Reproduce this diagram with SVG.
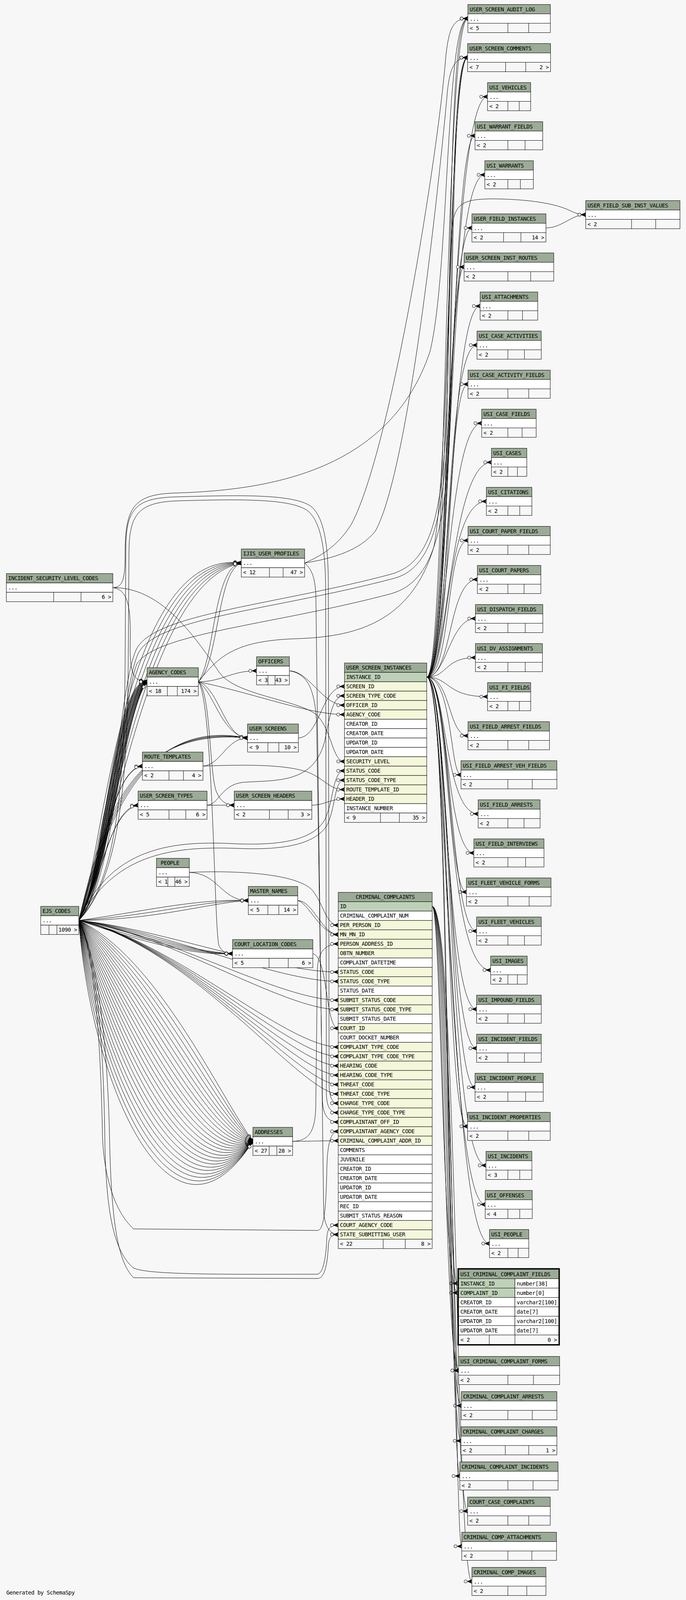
<svg xmlns="http://www.w3.org/2000/svg" width="1755" height="4199" viewBox="0 0 1755 4199">
<defs>
<style>
rect.h{fill:#9bab96;stroke:#000;stroke-width:1}
rect.p{fill:#bed1b8;stroke:#000;stroke-width:1}
rect.f{fill:#f4f7da;stroke:#000;stroke-width:1}
rect.w{fill:#ffffff;stroke:#000;stroke-width:1}
rect.b{fill:#f7f7f7;stroke:#000;stroke-width:1}
.s{fill:none;stroke:#000;stroke-width:1}
text{font-family:"DejaVu Sans Mono","Liberation Mono",monospace;font-size:14px;letter-spacing:-0.49px;fill:#000}
.r{text-anchor:end}
.c{text-anchor:middle}
#connectors path{fill:none;stroke:#000;stroke-width:1;marker-end:url(#m)}
</style>
<marker id="m" markerUnits="userSpaceOnUse" orient="auto" refX="0" refY="0" markerWidth="30" markerHeight="16" viewBox="-26 -8 30 16" overflow="visible">
<circle cx="-16" cy="0" r="4" fill="#f7f7f7" stroke="#000" stroke-width="1"/>
<path d="M-12,0L0,-5L-3,0L0,5Z" fill="#000" stroke="#000" stroke-width="0.8"/>
<path d="M-12,0H0" stroke="#000" stroke-width="1"/>
</marker>
</defs>
<rect x="0" y="0" width="1755" height="4199" fill="#f7f7f7"/>
<g id="connectors">
<path d="M1091.7,1733.3C1142,1733.3 1136,47.5 1197,47.5"/>
<path d="M1091.7,1733.3C1146,1733.3 1141,147.5 1196.3,147.5"/>
<path d="M1091.7,1733.3C1150,1733.3 1146,247.5 1247.2,247.5"/>
<path d="M1091.7,1733.3C1154,1733.3 1151,347.5 1215.2,347.5"/>
<path d="M1091.7,1733.3C1158,1733.3 1136,447.5 1240.3,447.5"/>
<path d="M1091.7,1733.3C1142,1733.3 1141,583.5 1207.3,583.5"/>
<path d="M1091.7,1733.3C1146,1733.3 1146,683.5 1187.3,683.5"/>
<path d="M1091.7,1733.3C1150,1733.3 1151,783.5 1228.3,783.5"/>
<path d="M1091.7,1733.3C1154,1733.3 1136,883.5 1220.3,883.5"/>
<path d="M1091.7,1733.3C1158,1733.3 1141,983.5 1197.3,983.5"/>
<path d="M1091.7,1733.3C1142,1733.3 1146,1083.5 1232.3,1083.5"/>
<path d="M1091.7,1733.3C1146,1733.3 1151,1183.5 1257.3,1183.5"/>
<path d="M1091.7,1733.3C1150,1733.3 1136,1283.5 1244.3,1283.5"/>
<path d="M1091.7,1733.3C1154,1733.3 1141,1383.5 1197.3,1383.5"/>
<path d="M1091.7,1733.3C1158,1733.3 1146,1483.5 1221.3,1483.5"/>
<path d="M1091.7,1733.3C1142,1733.3 1151,1583.5 1216.3,1583.5"/>
<path d="M1091.7,1733.3C1146,1733.3 1136,1683.5 1216.3,1683.5"/>
<path d="M1091.7,1733.3C1150,1733.3 1141,1783.5 1247.3,1783.5"/>
<path d="M1091.7,1733.3C1154,1733.3 1146,1883.5 1197.3,1883.5"/>
<path d="M1091.7,1733.3C1158,1733.3 1151,1983.5 1179.3,1983.5"/>
<path d="M1091.7,1733.3C1142,1733.3 1136,2083.5 1223.3,2083.5"/>
<path d="M1091.7,1733.3C1146,1733.3 1141,2183.5 1212.3,2183.5"/>
<path d="M1091.7,1733.3C1150,1733.3 1146,2283.5 1193.3,2283.5"/>
<path d="M1091.7,1733.3C1154,1733.3 1151,2383.5 1219.3,2383.5"/>
<path d="M1091.7,1733.3C1158,1733.3 1136,2483.5 1255.3,2483.5"/>
<path d="M1091.7,1733.3C1142,1733.3 1141,2583.5 1219.3,2583.5"/>
<path d="M1091.7,1733.3C1146,1733.3 1146,2683.5 1219.3,2683.5"/>
<path d="M1091.7,1733.3C1150,1733.3 1151,2783.5 1215.3,2783.5"/>
<path d="M1091.7,1733.3C1154,1733.3 1136,2883.5 1196.3,2883.5"/>
<path d="M1091.7,1733.3C1158,1733.3 1141,2983.5 1243.3,2983.5"/>
<path d="M1091.7,1733.3C1142,1733.3 1146,3083.5 1241.3,3083.5"/>
<path d="M1091.7,1733.3C1146,1733.3 1151,3183.5 1252.3,3183.5"/>
<path d="M1091.7,1733.3C1150,1733.3 1136,3285.5 1170.3,3285.5"/>
<path d="M1091.7,1733.3C1154,1733.3 1141,3508.5 1173.3,3508.5"/>
<path d="M1091.7,1733.3C1150,1733.3 1140,700 1160,560C1170,515 1200,510 1260,509C1350,510 1420,520 1460,540C1475,547 1485,549.6 1498.4,549.6"/>
<path d="M1396.7,583.5C1440,583 1460,549.6 1498.4,549.6"/>
<path d="M1105.7,2320.4C1128,2320.4 1132,3309.5 1170.3,3309.5"/>
<path d="M1105.7,2320.4C1134,2320.4 1138,3508.5 1173.3,3508.5"/>
<path d="M1105.7,2320.4C1140,2320.4 1144,3598.5 1180.3,3598.5"/>
<path d="M1105.7,2320.4C1146,2320.4 1150,3688.5 1179.3,3688.5"/>
<path d="M1105.7,2320.4C1152,2320.4 1156,3778.5 1176.3,3778.5"/>
<path d="M1105.7,2320.4C1158,2320.4 1160,3868.5 1196.3,3868.5"/>
<path d="M1105.7,2320.4C1164,2320.4 1162,3958.5 1181.3,3958.5"/>
<path d="M1105.7,2320.4C1170,2320.4 1166,4048.5 1207.3,4048.5"/>
<path d="M201.6,2356.3C262,2260 292,1728 376.3,1745.3"/>
<path d="M201.6,2356.3C264,2256 293.5,1735 376.3,1745.3"/>
<path d="M201.6,2356.3C266,2252 295,1742 376.3,1745.3"/>
<path d="M201.6,2356.3C268,2248 296.5,1749 376.3,1745.3"/>
<path d="M201.6,2356.3C270,2244 298,1756 376.3,1745.3"/>
<path d="M201.6,2356.3C272,2240 299.5,1763 376.3,1745.3"/>
<path d="M201.6,2356.3C274,2236 301,1770 376.3,1745.3"/>
<path d="M201.6,2356.3C276,2232 302.5,1777 376.3,1745.3"/>
<path d="M201.6,2356.3C278,2228 304,1784 376.3,1745.3"/>
<path d="M201.6,2356.3C280,2224 305.5,1791 376.3,1745.3"/>
<path d="M201.6,2356.3C282,2220 307,1798 376.3,1745.3"/>
<path d="M201.6,2356.3C284,2216 308.5,1805 376.3,1745.3"/>
<path d="M201.6,2356.3C286,2212 310,1812 376.3,1745.3"/>
<path d="M201.6,2356.3C288,2208 311.5,1819 376.3,1745.3"/>
<path d="M201.6,2356.3C290,2204 313,1826 376.3,1745.3"/>
<path d="M201.6,2356.3C292,2200 314.5,1833 376.3,1745.3"/>
<path d="M201.6,2356.3C265,2200 310,1400 617.3,1441.3"/>
<path d="M201.6,2356.3C270,2200 322,1418 617.3,1441.3"/>
<path d="M201.6,2356.3C275,2200 334,1436 617.3,1441.3"/>
<path d="M201.6,2356.3C280,2200 346,1454 617.3,1441.3"/>
<path d="M201.6,2356.3C285,2200 358,1472 617.3,1441.3"/>
<path d="M201.6,2356.3C290,2200 370,1490 617.3,1441.3"/>
<path d="M201.6,2356.3C262,2100 330,1860 633.3,1889.3"/>
<path d="M201.6,2356.3C266,2100 342,1852 633.3,1889.3"/>
<path d="M201.6,2356.3C270,2100 354,1844 633.3,1889.3"/>
<path d="M201.6,2356.3C274,2100 366,1836 633.3,1889.3"/>
<path d="M201.6,2356.3C255,2280 280,1965 364.3,1961.3"/>
<path d="M201.6,2356.3C250,2290 275,1975 364.3,1961.3"/>
<path d="M201.6,2356.3C250,2310 275,2066 353.3,2061.3"/>
<path d="M201.6,2356.3C245,2320 270,2078 353.3,2061.3"/>
<path d="M201.6,2356.3C360,2335 500,2300 635.3,2305.3"/>
<path d="M201.6,2356.3C380,2345 520,2305 635.3,2305.3"/>
<path d="M201.6,2356.3C400,2355 540,2310 635.3,2305.3"/>
<path d="M201.6,2356.3C330,2372 470,2436 595,2441.3"/>
<path d="M201.6,2356.3C340,2385 480,2440 595,2441.3"/>
<path d="M201.6,2356.3C350,2398 490,2444 595,2441.3"/>
<path d="M201.6,2356.3C360,2410 500,2448 595,2441.3"/>
<path d="M201.6,2356.3C400,2450 560,2800 647,2921.9"/>
<path d="M201.6,2356.3C393,2463 555,2819 647,2921.9"/>
<path d="M201.6,2356.3C386,2475 549,2838 647,2921.9"/>
<path d="M201.6,2356.3C379,2488 544,2858 647,2921.9"/>
<path d="M201.6,2356.3C372,2500 538,2877 647,2921.9"/>
<path d="M201.6,2356.3C365,2513 533,2896 647,2921.9"/>
<path d="M201.6,2356.3C358,2525 528,2915 647,2921.9"/>
<path d="M201.6,2356.3C350,2538 522,2934 647,2921.9"/>
<path d="M201.6,2356.3C343,2550 517,2953 647,2921.9"/>
<path d="M201.6,2356.3C336,2563 511,2973 647,2921.9"/>
<path d="M201.6,2356.3C329,2575 506,2992 647,2921.9"/>
<path d="M201.6,2356.3C322,2588 500,3011 647,2921.9"/>
<path d="M201.6,2356.3C315,2600 495,3030 647,2921.9"/>
<path d="M201.6,2356.3C308,2613 490,3049 647,2921.9"/>
<path d="M201.6,2356.3C301,2625 484,3068 647,2921.9"/>
<path d="M201.6,2356.3C294,2638 479,3088 647,2921.9"/>
<path d="M201.6,2356.3C287,2650 473,3107 647,2921.9"/>
<path d="M201.6,2356.3C280,2663 468,3126 647,2921.9"/>
<path d="M201.6,2356.3C273,2675 463,3145 647,2921.9"/>
<path d="M201.6,2356.3C265,2688 457,3164 647,2921.9"/>
<path d="M201.6,2356.3C258,2700 452,3183 647,2921.9"/>
<path d="M201.6,2356.3C251,2713 446,3203 647,2921.9"/>
<path d="M201.6,2356.3C244,2725 441,3222 647,2921.9"/>
<path d="M201.6,2356.3C237,2738 435,3241 647,2921.9"/>
<path d="M201.6,2356.3C230,2750 430,3260 647,2921.9"/>
<path d="M201.6,2356.3C280,2180 420,2150 600,2160C720,2165 800,2150 830,2100C855,2050 850,1973.3 881.3,1973.3"/>
<path d="M201.6,2356.3C290,2190 430,2165 610,2172C730,2177 810,2160 838,2110C860,2060 855,1997.3 881.3,1997.3"/>
<path d="M201.6,2356.3C400,2376 700,2488.4 865.3,2488.4"/>
<path d="M201.6,2356.3C410,2380 708,2512.4 865.3,2512.4"/>
<path d="M201.6,2356.3C420,2387 716,2560.4 865.3,2560.4"/>
<path d="M201.6,2356.3C430,2390 724,2584.4 865.3,2584.4"/>
<path d="M201.6,2356.3C440,2405 732,2680.4 865.3,2680.4"/>
<path d="M201.6,2356.3C450,2408 740,2704.4 865.3,2704.4"/>
<path d="M201.6,2356.3C460,2412 748,2728.4 865.3,2728.4"/>
<path d="M201.6,2356.3C470,2415 756,2752.4 865.3,2752.4"/>
<path d="M201.6,2356.3C480,2419 764,2776.4 865.3,2776.4"/>
<path d="M201.6,2356.3C490,2423 772,2800.4 865.3,2800.4"/>
<path d="M201.6,2356.3C300,2250 318,2000 320,1700L322,1400C323,1300 350,1275 450,1272C600,1268 760,1262 800,1300C830,1330 840,1400 840,1500L842,2780C843,2810 850,2824.4 865.3,2824.4"/>
<path d="M201.6,2356.3C305,2250 326,2000 328,1700L330,1410C331,1310 360,1285 460,1282C610,1278 750,1275 790,1310C822,1340 832,1410 833,1500L835,2800C836,2835 845,2848.4 865.3,2848.4"/>
<path d="M201.6,2356.3C250,2450 265,2700 268,2900C270,3100 290,3200 340,3245C370,3265 600,3262 812,3262C830,3260 835,3200 836,3170C837,3145 845,3136.4 865.3,3136.4"/>
<path d="M201.6,2356.3C255,2460 275,2700 280,2900C284,3120 300,3230 342,3271L812,3273C832,3273 838,3230 840,3190C841,3168 848,3160.4 865.3,3160.4"/>
<path d="M201.6,2356.3C245,2440 258,2700 262,2900C264,3000 290,3100 342,3146L812,3150C828,3150 834,3100 836,3000C837,2930 845,2896.4 865.3,2896.4"/>
<path d="M201.6,2356.3C290,2250 300,1760 350,1660C400,1570 700,1550 1000,1470C1110,1440 1135,1300 1145,1000C1155,400 1160,47.5 1197,47.5"/>
<path d="M201.6,2356.3C295,2250 305,1770 355,1670C405,1580 710,1560 1010,1480C1115,1450 1140,1300 1150,1000C1158,450 1165,147.5 1196.3,147.5"/>
<path d="M201.6,2356.3C300,2250 310,1800 350,1700C400,1620 700,1600 1000,1520C1110,1490 1140,1350 1150,1100C1160,500 1165,147.5 1196.3,147.5"/>
<path d="M507.3,1745.3C570,1745 590,1717.3 656.3,1717.3"/>
<path d="M507.3,1745.3C650,1775 790,1829.3 881.3,1829.3"/>
<path d="M507.3,1745.3C560,1760 575,1889.3 633.3,1889.3"/>
<path d="M507.3,1745.3C550,1775 565,1880 633.3,1889.3"/>
<path d="M507.3,1745.3C560,1700 555,1460 617.3,1441.3"/>
<path d="M507.3,1745.3C550,1690 545,1450 617.3,1441.3"/>
<path d="M507.3,1745.3C545,1790 548,2380 560,2420C568,2438 580,2441.3 595,2441.3"/>
<path d="M507.3,1745.3C540,1770 535,1990 555,2030C565,2052 580,2061.3 599.3,2061.3"/>
<path d="M507.3,1745.3C560,1680 600,1640 760,1635C900,1630 1050,1600 1110,1400C1150,1200 1150,147.5 1196.3,147.5"/>
<path d="M779.3,1441.3C830,1420 870,1390 900,1340C1000,1150 1120,400 1140,150C1148,70 1160,47.5 1197,47.5"/>
<path d="M779.3,1441.3C850,1430 920,1410 960,1360C1050,1200 1130,400 1145,230C1152,170 1165,147.5 1196.3,147.5"/>
<path d="M779.3,1441.3C800,1460 805,1480 808,1520L828,3100C830,3140 845,3160.4 865.3,3160.4"/>
<path d="M740.3,1717.3C790,1717 825,1805.3 881.3,1805.3"/>
<path d="M740.3,1717.3C785,1725 805,1760 810,1850L825,2820C827,2855 840,2872.4 865.3,2872.4"/>
<path d="M763.3,1889.3C820,1886 822,1757.3 881.3,1757.3"/>
<path d="M519.3,1961.3C650,1956 760,1958 805,1985C840,2005 848,2021.3 881.3,2021.3"/>
<path d="M519.3,1961.3C565,1958 580,1889.3 633.3,1889.3"/>
<path d="M529.7,2061.3L599.3,2061.3"/>
<path d="M529.7,2061.3C560,2060 565,2010 620,2003C700,1996 800,2010 830,1900C845,1830 850,1781.3 881.3,1781.3"/>
<path d="M797.7,2061.3C830,2061 845,2045.3 881.3,2045.3"/>
<path d="M288.7,1504.3C400,1504 480,1600 560,1720C600,1780 760,1790 810,1830C850,1870 850,1949.3 881.3,1949.3"/>
<path d="M288.7,1504.3C330,1510 335,1560 333,1650C332,1720 340,1745.3 376.3,1745.3"/>
<path d="M288.7,1504.3C315,1504 320,1480 320,1420C320,1300 340,1265 450,1262C700,1255 1000,1200 1100,900C1150,700 1140,47.5 1197,47.5"/>
<path d="M484.3,2233.3C560,2236 565,2305.3 635.3,2305.3"/>
<path d="M484.3,2233.3C600,2228 760,2235 800,2280C830,2320 835,2368.4 865.3,2368.4"/>
<path d="M761.7,2305.3C800,2305 825,2392.4 865.3,2392.4"/>
<path d="M761.7,2305.3C790,2312 820,2392.4 865.3,2392.4"/>
<path d="M800.3,2441.3C840,2450 832,2632.4 865.3,2632.4"/>
<path d="M748.6,2921.9C800,2921.5 820,2920.4 865.3,2920.4"/>
<path d="M748.6,2921.9C790,2920 808,2900 808,2820L812,2480C814,2440 830,2416.4 865.3,2416.4"/>
</g>
<g id="USER_SCREEN_AUDIT_LOG"><rect class="h" x="1197" y="11.5" width="211" height="24"/><rect class="w" x="1197" y="35.5" width="211" height="24"/><rect class="b" x="1197" y="59.5" width="211" height="24"/><path class="s" d="M1299.3,59.5V83.5M1352.6,59.5V83.5"/><text x="1201.5" y="28.5">USER_SCREEN_AUDIT_LOG</text><text x="1201.5" y="52.5">...</text><text x="1201.5" y="76.5">&lt; 5</text></g>
<g id="USER_SCREEN_COMMENTS"><rect class="h" x="1196.3" y="111.5" width="212.2" height="24"/><rect class="w" x="1196.3" y="135.5" width="212.2" height="24"/><rect class="b" x="1196.3" y="159.5" width="212.2" height="24"/><path class="s" d="M1293.5,159.5V183.5M1344.9,159.5V183.5"/><text x="1200.8" y="128.5">USER_SCREEN_COMMENTS</text><text x="1200.8" y="152.5">...</text><text x="1200.8" y="176.5">&lt; 7</text><text class="r" x="1404" y="176.5">2 &gt;</text></g>
<g id="USI_VEHICLES"><rect class="h" x="1247.2" y="211.5" width="110.4" height="24"/><rect class="w" x="1247.2" y="235.5" width="110.4" height="24"/><rect class="b" x="1247.2" y="259.5" width="110.4" height="24"/><path class="s" d="M1299.3,259.5V283.5M1328.3,259.5V283.5"/><text x="1251.7" y="228.5">USI_VEHICLES</text><text x="1251.7" y="252.5">...</text><text x="1251.7" y="276.5">&lt; 2</text></g>
<g id="USI_WARRANT_FIELDS"><rect class="h" x="1215.2" y="311.5" width="173.3" height="24"/><rect class="w" x="1215.2" y="335.5" width="173.3" height="24"/><rect class="b" x="1215.2" y="359.5" width="173.3" height="24"/><path class="s" d="M1299.3,359.5V383.5M1343.3,359.5V383.5"/><text x="1219.7" y="328.5">USI_WARRANT_FIELDS</text><text x="1219.7" y="352.5">...</text><text x="1219.7" y="376.5">&lt; 2</text></g>
<g id="USI_WARRANTS"><rect class="h" x="1240.3" y="411.5" width="124.2" height="24"/><rect class="w" x="1240.3" y="435.5" width="124.2" height="24"/><rect class="b" x="1240.3" y="459.5" width="124.2" height="24"/><path class="s" d="M1299.3,459.5V483.5M1331.3,459.5V483.5"/><text x="1244.8" y="428.5">USI_WARRANTS</text><text x="1244.8" y="452.5">...</text><text x="1244.8" y="476.5">&lt; 2</text></g>
<g id="USER_FIELD_INSTANCES"><rect class="h" x="1207.3" y="547.5" width="189.4" height="24"/><rect class="w" x="1207.3" y="571.5" width="189.4" height="24"/><rect class="b" x="1207.3" y="595.5" width="189.4" height="24"/><path class="s" d="M1288.3,595.5V619.5M1332.7,595.5V619.5"/><text x="1211.8" y="564.5">USER_FIELD_INSTANCES</text><text x="1211.8" y="588.5">...</text><text x="1211.8" y="612.5">&lt; 2</text><text class="r" x="1392.2" y="612.5">14 &gt;</text></g>
<g id="USER_FIELD_SUB_INST_VALUES"><rect class="h" x="1498.4" y="513.6" width="241.2" height="24"/><rect class="w" x="1498.4" y="537.6" width="241.2" height="24"/><rect class="b" x="1498.4" y="561.6" width="241.2" height="24"/><path class="s" d="M1615.7,561.6V585.6M1677.5,561.6V585.6"/><text x="1502.9" y="530.6">USER_FIELD_SUB_INST_VALUES</text><text x="1502.9" y="554.6">...</text><text x="1502.9" y="578.6">&lt; 2</text></g>
<g id="USER_SCREEN_INST_ROUTES"><rect class="h" x="1187.3" y="647.5" width="229.4" height="24"/><rect class="w" x="1187.3" y="671.5" width="229.4" height="24"/><rect class="b" x="1187.3" y="695.5" width="229.4" height="24"/><path class="s" d="M1299.3,695.5V719.5M1357.7,695.5V719.5"/><text x="1191.8" y="664.5">USER_SCREEN_INST_ROUTES</text><text x="1191.8" y="688.5">...</text><text x="1191.8" y="712.5">&lt; 2</text></g>
<g id="USI_ATTACHMENTS"><rect class="h" x="1228.3" y="747.5" width="147.4" height="24"/><rect class="w" x="1228.3" y="771.5" width="147.4" height="24"/><rect class="b" x="1228.3" y="795.5" width="147.4" height="24"/><path class="s" d="M1299.3,795.5V819.5M1336.7,795.5V819.5"/><text x="1232.8" y="764.5">USI_ATTACHMENTS</text><text x="1232.8" y="788.5">...</text><text x="1232.8" y="812.5">&lt; 2</text></g>
<g id="USI_CASE_ACTIVITIES"><rect class="h" x="1220.3" y="847.5" width="164.4" height="24"/><rect class="w" x="1220.3" y="871.5" width="164.4" height="24"/><rect class="b" x="1220.3" y="895.5" width="164.4" height="24"/><path class="s" d="M1299.3,895.5V919.5M1341.7,895.5V919.5"/><text x="1224.8" y="864.5">USI_CASE_ACTIVITIES</text><text x="1224.8" y="888.5">...</text><text x="1224.8" y="912.5">&lt; 2</text></g>
<g id="USI_CASE_ACTIVITY_FIELDS"><rect class="h" x="1197.3" y="947.5" width="210.4" height="24"/><rect class="w" x="1197.3" y="971.5" width="210.4" height="24"/><rect class="b" x="1197.3" y="995.5" width="210.4" height="24"/><path class="s" d="M1299.3,995.5V1019.5M1352.7,995.5V1019.5"/><text x="1201.8" y="964.5">USI_CASE_ACTIVITY_FIELDS</text><text x="1201.8" y="988.5">...</text><text x="1201.8" y="1012.5">&lt; 2</text></g>
<g id="USI_CASE_FIELDS"><rect class="h" x="1232.3" y="1047.5" width="139.4" height="24"/><rect class="w" x="1232.3" y="1071.5" width="139.4" height="24"/><rect class="b" x="1232.3" y="1095.5" width="139.4" height="24"/><path class="s" d="M1299.3,1095.5V1119.5M1335.7,1095.5V1119.5"/><text x="1236.8" y="1064.5">USI_CASE_FIELDS</text><text x="1236.8" y="1088.5">...</text><text x="1236.8" y="1112.5">&lt; 2</text></g>
<g id="USI_CASES"><rect class="h" x="1257.3" y="1147.5" width="90.4" height="24"/><rect class="w" x="1257.3" y="1171.5" width="90.4" height="24"/><rect class="b" x="1257.3" y="1195.5" width="90.4" height="24"/><path class="s" d="M1299.3,1195.5V1219.5M1323.7,1195.5V1219.5"/><text x="1261.8" y="1164.5">USI_CASES</text><text x="1261.8" y="1188.5">...</text><text x="1261.8" y="1212.5">&lt; 2</text></g>
<g id="USI_CITATIONS"><rect class="h" x="1244.3" y="1247.5" width="116.4" height="24"/><rect class="w" x="1244.3" y="1271.5" width="116.4" height="24"/><rect class="b" x="1244.3" y="1295.5" width="116.4" height="24"/><path class="s" d="M1299.3,1295.5V1319.5M1329.7,1295.5V1319.5"/><text x="1248.8" y="1264.5">USI_CITATIONS</text><text x="1248.8" y="1288.5">...</text><text x="1248.8" y="1312.5">&lt; 2</text></g>
<g id="USI_COURT_PAPER_FIELDS"><rect class="h" x="1197.3" y="1347.5" width="210.4" height="24"/><rect class="w" x="1197.3" y="1371.5" width="210.4" height="24"/><rect class="b" x="1197.3" y="1395.5" width="210.4" height="24"/><path class="s" d="M1299.3,1395.5V1419.5M1352.7,1395.5V1419.5"/><text x="1201.8" y="1364.5">USI_COURT_PAPER_FIELDS</text><text x="1201.8" y="1388.5">...</text><text x="1201.8" y="1412.5">&lt; 2</text></g>
<g id="USI_COURT_PAPERS"><rect class="h" x="1221.3" y="1447.5" width="162.4" height="24"/><rect class="w" x="1221.3" y="1471.5" width="162.4" height="24"/><rect class="b" x="1221.3" y="1495.5" width="162.4" height="24"/><path class="s" d="M1299.3,1495.5V1519.5M1340.7,1495.5V1519.5"/><text x="1225.8" y="1464.5">USI_COURT_PAPERS</text><text x="1225.8" y="1488.5">...</text><text x="1225.8" y="1512.5">&lt; 2</text></g>
<g id="USI_DISPATCH_FIELDS"><rect class="h" x="1216.3" y="1547.5" width="172.4" height="24"/><rect class="w" x="1216.3" y="1571.5" width="172.4" height="24"/><rect class="b" x="1216.3" y="1595.5" width="172.4" height="24"/><path class="s" d="M1299.3,1595.5V1619.5M1343.7,1595.5V1619.5"/><text x="1220.8" y="1564.5">USI_DISPATCH_FIELDS</text><text x="1220.8" y="1588.5">...</text><text x="1220.8" y="1612.5">&lt; 2</text></g>
<g id="USI_DV_ASSIGNMENTS"><rect class="h" x="1216.3" y="1647.5" width="171.4" height="24"/><rect class="w" x="1216.3" y="1671.5" width="171.4" height="24"/><rect class="b" x="1216.3" y="1695.5" width="171.4" height="24"/><path class="s" d="M1299.3,1695.5V1719.5M1343.7,1695.5V1719.5"/><text x="1220.8" y="1664.5">USI_DV_ASSIGNMENTS</text><text x="1220.8" y="1688.5">...</text><text x="1220.8" y="1712.5">&lt; 2</text></g>
<g id="USI_FI_FIELDS"><rect class="h" x="1247.3" y="1747.5" width="110.4" height="24"/><rect class="w" x="1247.3" y="1771.5" width="110.4" height="24"/><rect class="b" x="1247.3" y="1795.5" width="110.4" height="24"/><path class="s" d="M1299.3,1795.5V1819.5M1328.7,1795.5V1819.5"/><text x="1251.8" y="1764.5">USI_FI_FIELDS</text><text x="1251.8" y="1788.5">...</text><text x="1251.8" y="1812.5">&lt; 2</text></g>
<g id="USI_FIELD_ARREST_FIELDS"><rect class="h" x="1197.3" y="1847.5" width="208.4" height="24"/><rect class="w" x="1197.3" y="1871.5" width="208.4" height="24"/><rect class="b" x="1197.3" y="1895.5" width="208.4" height="24"/><path class="s" d="M1299.3,1895.5V1919.5M1352.7,1895.5V1919.5"/><text x="1201.8" y="1864.5">USI_FIELD_ARREST_FIELDS</text><text x="1201.8" y="1888.5">...</text><text x="1201.8" y="1912.5">&lt; 2</text></g>
<g id="USI_FIELD_ARREST_VEH_FIELDS"><rect class="h" x="1179.3" y="1947.5" width="245.4" height="24"/><rect class="w" x="1179.3" y="1971.5" width="245.4" height="24"/><rect class="b" x="1179.3" y="1995.5" width="245.4" height="24"/><path class="s" d="M1299.3,1995.5V2019.5M1361.7,1995.5V2019.5"/><text x="1183.8" y="1964.5">USI_FIELD_ARREST_VEH_FIELDS</text><text x="1183.8" y="1988.5">...</text><text x="1183.8" y="2012.5">&lt; 2</text></g>
<g id="USI_FIELD_ARRESTS"><rect class="h" x="1223.3" y="2047.5" width="158.4" height="24"/><rect class="w" x="1223.3" y="2071.5" width="158.4" height="24"/><rect class="b" x="1223.3" y="2095.5" width="158.4" height="24"/><path class="s" d="M1299.3,2095.5V2119.5M1340.7,2095.5V2119.5"/><text x="1227.8" y="2064.5">USI_FIELD_ARRESTS</text><text x="1227.8" y="2088.5">...</text><text x="1227.8" y="2112.5">&lt; 2</text></g>
<g id="USI_FIELD_INTERVIEWS"><rect class="h" x="1212.3" y="2147.5" width="179.4" height="24"/><rect class="w" x="1212.3" y="2171.5" width="179.4" height="24"/><rect class="b" x="1212.3" y="2195.5" width="179.4" height="24"/><path class="s" d="M1299.3,2195.5V2219.5M1344.7,2195.5V2219.5"/><text x="1216.8" y="2164.5">USI_FIELD_INTERVIEWS</text><text x="1216.8" y="2188.5">...</text><text x="1216.8" y="2212.5">&lt; 2</text></g>
<g id="USI_FLEET_VEHICLE_FORMS"><rect class="h" x="1193.3" y="2247.5" width="216.4" height="24"/><rect class="w" x="1193.3" y="2271.5" width="216.4" height="24"/><rect class="b" x="1193.3" y="2295.5" width="216.4" height="24"/><path class="s" d="M1299.3,2295.5V2319.5M1353.7,2295.5V2319.5"/><text x="1197.8" y="2264.5">USI_FLEET_VEHICLE_FORMS</text><text x="1197.8" y="2288.5">...</text><text x="1197.8" y="2312.5">&lt; 2</text></g>
<g id="USI_FLEET_VEHICLES"><rect class="h" x="1219.3" y="2347.5" width="165.4" height="24"/><rect class="w" x="1219.3" y="2371.5" width="165.4" height="24"/><rect class="b" x="1219.3" y="2395.5" width="165.4" height="24"/><path class="s" d="M1299.3,2395.5V2419.5M1341.7,2395.5V2419.5"/><text x="1223.8" y="2364.5">USI_FLEET_VEHICLES</text><text x="1223.8" y="2388.5">...</text><text x="1223.8" y="2412.5">&lt; 2</text></g>
<g id="USI_IMAGES"><rect class="h" x="1255.3" y="2447.5" width="93.4" height="24"/><rect class="w" x="1255.3" y="2471.5" width="93.4" height="24"/><rect class="b" x="1255.3" y="2495.5" width="93.4" height="24"/><path class="s" d="M1299.3,2495.5V2519.5M1323.7,2495.5V2519.5"/><text x="1259.8" y="2464.5">USI_IMAGES</text><text x="1259.8" y="2488.5">...</text><text x="1259.8" y="2512.5">&lt; 2</text></g>
<g id="USI_IMPOUND_FIELDS"><rect class="h" x="1219.3" y="2547.5" width="165.4" height="24"/><rect class="w" x="1219.3" y="2571.5" width="165.4" height="24"/><rect class="b" x="1219.3" y="2595.5" width="165.4" height="24"/><path class="s" d="M1299.3,2595.5V2619.5M1341.7,2595.5V2619.5"/><text x="1223.8" y="2564.5">USI_IMPOUND_FIELDS</text><text x="1223.8" y="2588.5">...</text><text x="1223.8" y="2612.5">&lt; 2</text></g>
<g id="USI_INCIDENT_FIELDS"><rect class="h" x="1219.3" y="2647.5" width="165.4" height="24"/><rect class="w" x="1219.3" y="2671.5" width="165.4" height="24"/><rect class="b" x="1219.3" y="2695.5" width="165.4" height="24"/><path class="s" d="M1299.3,2695.5V2719.5M1341.7,2695.5V2719.5"/><text x="1223.8" y="2664.5">USI_INCIDENT_FIELDS</text><text x="1223.8" y="2688.5">...</text><text x="1223.8" y="2712.5">&lt; 2</text></g>
<g id="USI_INCIDENT_PEOPLE"><rect class="h" x="1215.3" y="2747.5" width="174.4" height="24"/><rect class="w" x="1215.3" y="2771.5" width="174.4" height="24"/><rect class="b" x="1215.3" y="2795.5" width="174.4" height="24"/><path class="s" d="M1299.3,2795.5V2819.5M1344.7,2795.5V2819.5"/><text x="1219.8" y="2764.5">USI_INCIDENT_PEOPLE</text><text x="1219.8" y="2788.5">...</text><text x="1219.8" y="2812.5">&lt; 2</text></g>
<g id="USI_INCIDENT_PROPERTIES"><rect class="h" x="1196.3" y="2847.5" width="211.4" height="24"/><rect class="w" x="1196.3" y="2871.5" width="211.4" height="24"/><rect class="b" x="1196.3" y="2895.5" width="211.4" height="24"/><path class="s" d="M1299.3,2895.5V2919.5M1352.7,2895.5V2919.5"/><text x="1200.8" y="2864.5">USI_INCIDENT_PROPERTIES</text><text x="1200.8" y="2888.5">...</text><text x="1200.8" y="2912.5">&lt; 2</text></g>
<g id="USI_INCIDENTS"><rect class="h" x="1243.3" y="2947.5" width="117.4" height="24"/><rect class="w" x="1243.3" y="2971.5" width="117.4" height="24"/><rect class="b" x="1243.3" y="2995.5" width="117.4" height="24"/><path class="s" d="M1299.3,2995.5V3019.5M1329.7,2995.5V3019.5"/><text x="1247.8" y="2964.5">USI_INCIDENTS</text><text x="1247.8" y="2988.5">...</text><text x="1247.8" y="3012.5">&lt; 3</text></g>
<g id="USI_OFFENSES"><rect class="h" x="1241.3" y="3047.5" width="120.4" height="24"/><rect class="w" x="1241.3" y="3071.5" width="120.4" height="24"/><rect class="b" x="1241.3" y="3095.5" width="120.4" height="24"/><path class="s" d="M1299.3,3095.5V3119.5M1329.7,3095.5V3119.5"/><text x="1245.8" y="3064.5">USI_OFFENSES</text><text x="1245.8" y="3088.5">...</text><text x="1245.8" y="3112.5">&lt; 4</text></g>
<g id="USI_PEOPLE"><rect class="h" x="1252.3" y="3147.5" width="100.4" height="24"/><rect class="w" x="1252.3" y="3171.5" width="100.4" height="24"/><rect class="b" x="1252.3" y="3195.5" width="100.4" height="24"/><path class="s" d="M1299.3,3195.5V3219.5M1325.7,3195.5V3219.5"/><text x="1256.8" y="3164.5">USI_PEOPLE</text><text x="1256.8" y="3188.5">...</text><text x="1256.8" y="3212.5">&lt; 2</text></g>
<g id="USI_CRIMINAL_COMPLAINT_FIELDS">
<rect class="h" x="1173.3" y="3249.5" width="256" height="24"/>
<rect class="p" x="1173.3" y="3273.5" width="144" height="24"/><rect class="w" x="1317.3" y="3273.5" width="112" height="24"/>
<rect class="p" x="1173.3" y="3297.5" width="144" height="24"/><rect class="w" x="1317.3" y="3297.5" width="112" height="24"/>
<rect class="w" x="1173.3" y="3321.5" width="144" height="24"/><rect class="w" x="1317.3" y="3321.5" width="112" height="24"/>
<rect class="w" x="1173.3" y="3345.5" width="144" height="24"/><rect class="w" x="1317.3" y="3345.5" width="112" height="24"/>
<rect class="w" x="1173.3" y="3369.5" width="144" height="24"/><rect class="w" x="1317.3" y="3369.5" width="112" height="24"/>
<rect class="w" x="1173.3" y="3393.5" width="144" height="24"/><rect class="w" x="1317.3" y="3393.5" width="112" height="24"/>
<rect class="b" x="1173.3" y="3417.5" width="256" height="24"/>
<path class="s" d="M1251.7,3417.5V3441.5M1317.3,3417.5V3441.5"/>
<rect x="1171.8" y="3248" width="259" height="195" fill="none" stroke="#000" stroke-width="3"/>
<text x="1177.8" y="3266.5">USI_CRIMINAL_COMPLAINT_FIELDS</text>
<text x="1177.8" y="3290.5">INSTANCE_ID</text><text x="1321.8" y="3290.5">number[38]</text>
<text x="1177.8" y="3314.5">COMPLAINT_ID</text><text x="1321.8" y="3314.5">number[0]</text>
<text x="1177.8" y="3338.5">CREATOR_ID</text><text x="1321.8" y="3338.5">varchar2[100]</text>
<text x="1177.8" y="3362.5">CREATOR_DATE</text><text x="1321.8" y="3362.5">date[7]</text>
<text x="1177.8" y="3386.5">UPDATOR_ID</text><text x="1321.8" y="3386.5">varchar2[100]</text>
<text x="1177.8" y="3410.5">UPDATOR_DATE</text><text x="1321.8" y="3410.5">date[7]</text>
<text x="1177.8" y="3434.5">&lt; 2</text><text class="r" x="1424.8" y="3434.5">0 &gt;</text>
</g>
<g id="USI_CRIMINAL_COMPLAINT_FORMS"><rect class="h" x="1173.3" y="3472.5" width="258.4" height="24"/><rect class="w" x="1173.3" y="3496.5" width="258.4" height="24"/><rect class="b" x="1173.3" y="3520.5" width="258.4" height="24"/><path class="s" d="M1299.3,3520.5V3544.5M1364.7,3520.5V3544.5"/><text x="1177.8" y="3489.5">USI_CRIMINAL_COMPLAINT_FORMS</text><text x="1177.8" y="3513.5">...</text><text x="1177.8" y="3537.5">&lt; 2</text></g>
<g id="CRIMINAL_COMPLAINT_ARRESTS"><rect class="h" x="1180.3" y="3562.5" width="244.4" height="24"/><rect class="w" x="1180.3" y="3586.5" width="244.4" height="24"/><rect class="b" x="1180.3" y="3610.5" width="244.4" height="24"/><path class="s" d="M1299.3,3610.5V3634.5M1361.7,3610.5V3634.5"/><text x="1184.8" y="3579.5">CRIMINAL_COMPLAINT_ARRESTS</text><text x="1184.8" y="3603.5">...</text><text x="1184.8" y="3627.5">&lt; 2</text></g>
<g id="CRIMINAL_COMPLAINT_CHARGES"><rect class="h" x="1179.3" y="3652.5" width="245.4" height="24"/><rect class="w" x="1179.3" y="3676.5" width="245.4" height="24"/><rect class="b" x="1179.3" y="3700.5" width="245.4" height="24"/><path class="s" d="M1292.7,3700.5V3724.5M1352.7,3700.5V3724.5"/><text x="1183.8" y="3669.5">CRIMINAL_COMPLAINT_CHARGES</text><text x="1183.8" y="3693.5">...</text><text x="1183.8" y="3717.5">&lt; 2</text><text class="r" x="1420.2" y="3717.5">1 &gt;</text></g>
<g id="CRIMINAL_COMPLAINT_INCIDENTS"><rect class="h" x="1176.3" y="3742.5" width="251.4" height="24"/><rect class="w" x="1176.3" y="3766.5" width="251.4" height="24"/><rect class="b" x="1176.3" y="3790.5" width="251.4" height="24"/><path class="s" d="M1299.3,3790.5V3814.5M1363.7,3790.5V3814.5"/><text x="1180.8" y="3759.5">CRIMINAL_COMPLAINT_INCIDENTS</text><text x="1180.8" y="3783.5">...</text><text x="1180.8" y="3807.5">&lt; 2</text></g>
<g id="COURT_CASE_COMPLAINTS"><rect class="h" x="1196.3" y="3832.5" width="211.4" height="24"/><rect class="w" x="1196.3" y="3856.5" width="211.4" height="24"/><rect class="b" x="1196.3" y="3880.5" width="211.4" height="24"/><path class="s" d="M1299.3,3880.5V3904.5M1352.7,3880.5V3904.5"/><text x="1200.8" y="3849.5">COURT_CASE_COMPLAINTS</text><text x="1200.8" y="3873.5">...</text><text x="1200.8" y="3897.5">&lt; 2</text></g>
<g id="CRIMINAL_COMP_ATTACHMENTS"><rect class="h" x="1181.3" y="3922.5" width="242.4" height="24"/><rect class="w" x="1181.3" y="3946.5" width="242.4" height="24"/><rect class="b" x="1181.3" y="3970.5" width="242.4" height="24"/><path class="s" d="M1299.3,3970.5V3994.5M1360.7,3970.5V3994.5"/><text x="1185.8" y="3939.5">CRIMINAL_COMP_ATTACHMENTS</text><text x="1185.8" y="3963.5">...</text><text x="1185.8" y="3987.5">&lt; 2</text></g>
<g id="CRIMINAL_COMP_IMAGES"><rect class="h" x="1207.3" y="4012.5" width="189.4" height="24"/><rect class="w" x="1207.3" y="4036.5" width="189.4" height="24"/><rect class="b" x="1207.3" y="4060.5" width="189.4" height="24"/><path class="s" d="M1299.3,4060.5V4084.5M1347.7,4060.5V4084.5"/><text x="1211.8" y="4029.5">CRIMINAL_COMP_IMAGES</text><text x="1211.8" y="4053.5">...</text><text x="1211.8" y="4077.5">&lt; 2</text></g>
<g id="INCIDENT_SECURITY_LEVEL_CODES"><rect class="h" x="16.3" y="1468.3" width="272.4" height="24"/><rect class="w" x="16.3" y="1492.3" width="272.4" height="24"/><rect class="b" x="16.3" y="1516.3" width="272.4" height="24"/><path class="s" d="M137.3,1516.3V1540.3M207.3,1516.3V1540.3"/><text x="20.8" y="1485.3">INCIDENT_SECURITY_LEVEL_CODES</text><text x="20.8" y="1509.3">...</text><text class="r" x="284.2" y="1533.3">6 &gt;</text></g>
<g id="IJIS_USER_PROFILES"><rect class="h" x="617.3" y="1405.3" width="162" height="24"/><rect class="w" x="617.3" y="1429.3" width="162" height="24"/><rect class="b" x="617.3" y="1453.3" width="162" height="24"/><path class="s" d="M689.3,1453.3V1477.3M724.3,1453.3V1477.3"/><text x="621.8" y="1422.3">IJIS_USER_PROFILES</text><text x="621.8" y="1446.3">...</text><text x="621.8" y="1470.3">&lt; 12</text><text class="r" x="774.8" y="1470.3">47 &gt;</text></g>
<g id="AGENCY_CODES"><rect class="h" x="376.3" y="1709.3" width="131" height="24"/><rect class="w" x="376.3" y="1733.3" width="131" height="24"/><rect class="b" x="376.3" y="1757.3" width="131" height="24"/><path class="s" d="M428.3,1757.3V1781.3M453.7,1757.3V1781.3"/><text x="380.8" y="1726.3">AGENCY_CODES</text><text x="380.8" y="1750.3">...</text><text x="380.8" y="1774.3">&lt; 18</text><text class="r" x="502.8" y="1774.3">174 &gt;</text></g>
<g id="OFFICERS"><rect class="h" x="656.3" y="1681.3" width="84" height="24"/><rect class="w" x="656.3" y="1705.3" width="84" height="24"/><rect class="b" x="656.3" y="1729.3" width="84" height="24"/><path class="s" d="M685.7,1729.3V1753.3M703.7,1729.3V1753.3"/><text x="660.8" y="1698.3">OFFICERS</text><text x="660.8" y="1722.3">...</text><text x="660.8" y="1746.3">&lt; 3</text><text class="r" x="735.8" y="1746.3">43 &gt;</text></g>
<g id="USER_SCREENS"><rect class="h" x="633.3" y="1853.3" width="130" height="24"/><rect class="w" x="633.3" y="1877.3" width="130" height="24"/><rect class="b" x="633.3" y="1901.3" width="130" height="24"/><path class="s" d="M685.3,1901.3V1925.3M713.3,1901.3V1925.3"/><text x="637.8" y="1870.3">USER_SCREENS</text><text x="637.8" y="1894.3">...</text><text x="637.8" y="1918.3">&lt; 9</text><text class="r" x="758.8" y="1918.3">10 &gt;</text></g>
<g id="ROUTE_TEMPLATES"><rect class="h" x="364.3" y="1925.3" width="155" height="24"/><rect class="w" x="364.3" y="1949.3" width="155" height="24"/><rect class="b" x="364.3" y="1973.3" width="155" height="24"/><path class="s" d="M432.3,1973.3V1997.3M469.3,1973.3V1997.3"/><text x="368.8" y="1942.3">ROUTE_TEMPLATES</text><text x="368.8" y="1966.3">...</text><text x="368.8" y="1990.3">&lt; 2</text><text class="r" x="514.8" y="1990.3">4 &gt;</text></g>
<g id="USER_SCREEN_TYPES"><rect class="h" x="353.3" y="2025.3" width="176.4" height="24"/><rect class="w" x="353.3" y="2049.3" width="176.4" height="24"/><rect class="b" x="353.3" y="2073.3" width="176.4" height="24"/><path class="s" d="M432.3,2073.3V2097.3M475.3,2073.3V2097.3"/><text x="357.8" y="2042.3">USER_SCREEN_TYPES</text><text x="357.8" y="2066.3">...</text><text x="357.8" y="2090.3">&lt; 5</text><text class="r" x="525.2" y="2090.3">6 &gt;</text></g>
<g id="USER_SCREEN_HEADERS"><rect class="h" x="599.3" y="2025.3" width="198.4" height="24"/><rect class="w" x="599.3" y="2049.3" width="198.4" height="24"/><rect class="b" x="599.3" y="2073.3" width="198.4" height="24"/><path class="s" d="M689.3,2073.3V2097.3M737.3,2073.3V2097.3"/><text x="603.8" y="2042.3">USER_SCREEN_HEADERS</text><text x="603.8" y="2066.3">...</text><text x="603.8" y="2090.3">&lt; 2</text><text class="r" x="793.2" y="2090.3">3 &gt;</text></g>
<g id="PEOPLE"><rect class="h" x="400.3" y="2197.3" width="84" height="24"/><rect class="w" x="400.3" y="2221.3" width="84" height="24"/><rect class="b" x="400.3" y="2245.3" width="84" height="24"/><path class="s" d="M429.3,2245.3V2269.3M447.3,2245.3V2269.3"/><text x="411" y="2214.3">PEOPLE</text><text x="404.8" y="2238.3">...</text><text x="404.8" y="2262.3">&lt; 1</text><text class="r" x="479.8" y="2262.3">46 &gt;</text></g>
<g id="MASTER_NAMES"><rect class="h" x="635.3" y="2269.3" width="126.4" height="24"/><rect class="w" x="635.3" y="2293.3" width="126.4" height="24"/><rect class="b" x="635.3" y="2317.3" width="126.4" height="24"/><path class="s" d="M685.3,2317.3V2341.3M713.3,2317.3V2341.3"/><text x="639.8" y="2286.3">MASTER_NAMES</text><text x="639.8" y="2310.3">...</text><text x="639.8" y="2334.3">&lt; 5</text><text class="r" x="757.2" y="2334.3">14 &gt;</text></g>
<g id="EJS_CODES"><rect class="h" x="104.2" y="2320.3" width="97.4" height="24"/><rect class="w" x="104.2" y="2344.3" width="97.4" height="24"/><rect class="b" x="104.2" y="2368.3" width="97.4" height="24"/><path class="s" d="M125.4,2368.3V2392.3M145.6,2368.3V2392.3"/><text x="108.7" y="2337.3">EJS_CODES</text><text x="108.7" y="2361.3">...</text><text class="r" x="197.1" y="2385.3">1090 &gt;</text></g>
<g id="COURT_LOCATION_CODES"><rect class="h" x="595" y="2405.3" width="205.3" height="24"/><rect class="w" x="595" y="2429.3" width="205.3" height="24"/><rect class="b" x="595" y="2453.3" width="205.3" height="24"/><path class="s" d="M688.3,2453.3V2477.3M737.4,2453.3V2477.3"/><text x="599.5" y="2422.3">COURT_LOCATION_CODES</text><text x="599.5" y="2446.3">...</text><text x="599.5" y="2470.3">&lt; 5</text><text class="r" x="795.8" y="2470.3">6 &gt;</text></g>
<g id="ADDRESSES"><rect class="h" x="647" y="2886" width="101.6" height="24"/><rect class="w" x="647" y="2910" width="101.6" height="24"/><rect class="b" x="647" y="2934" width="101.6" height="24"/><path class="s" d="M688.6,2934V2958M708.2,2934V2958"/><text x="651.5" y="2903">ADDRESSES</text><text x="651.5" y="2927">...</text><text x="651.5" y="2951">&lt; 27</text><text class="r" x="744.1" y="2951">28 &gt;</text></g>
<g id="USER_SCREEN_INSTANCES">
<rect class="h" x="881.3" y="1697.3" width="210.4" height="24"/>
<rect class="p" x="881.3" y="1721.3" width="210.4" height="24"/>
<rect class="f" x="881.3" y="1745.3" width="210.4" height="24"/>
<rect class="f" x="881.3" y="1769.3" width="210.4" height="24"/>
<rect class="f" x="881.3" y="1793.3" width="210.4" height="24"/>
<rect class="f" x="881.3" y="1817.3" width="210.4" height="24"/>
<rect class="w" x="881.3" y="1841.3" width="210.4" height="24"/>
<rect class="w" x="881.3" y="1865.3" width="210.4" height="24"/>
<rect class="w" x="881.3" y="1889.3" width="210.4" height="24"/>
<rect class="w" x="881.3" y="1913.3" width="210.4" height="24"/>
<rect class="f" x="881.3" y="1937.3" width="210.4" height="24"/>
<rect class="f" x="881.3" y="1961.3" width="210.4" height="24"/>
<rect class="f" x="881.3" y="1985.3" width="210.4" height="24"/>
<rect class="f" x="881.3" y="2009.3" width="210.4" height="24"/>
<rect class="f" x="881.3" y="2033.3" width="210.4" height="24"/>
<rect class="w" x="881.3" y="2057.3" width="210.4" height="24"/>
<rect class="b" x="881.3" y="2081.3" width="210.4" height="24"/>
<path class="s" d="M973.3,2081.3V2105.3M1021.7,2081.3V2105.3"/>
<text x="885.8" y="1714.3">USER_SCREEN_INSTANCES</text>
<text x="885.8" y="1738.3">INSTANCE_ID</text>
<text x="885.8" y="1762.3">SCREEN_ID</text>
<text x="885.8" y="1786.3">SCREEN_TYPE_CODE</text>
<text x="885.8" y="1810.3">OFFICER_ID</text>
<text x="885.8" y="1834.3">AGENCY_CODE</text>
<text x="885.8" y="1858.3">CREATOR_ID</text>
<text x="885.8" y="1882.3">CREATOR_DATE</text>
<text x="885.8" y="1906.3">UPDATOR_ID</text>
<text x="885.8" y="1930.3">UPDATOR_DATE</text>
<text x="885.8" y="1954.3">SECURITY_LEVEL</text>
<text x="885.8" y="1978.3">STATUS_CODE</text>
<text x="885.8" y="2002.3">STATUS_CODE_TYPE</text>
<text x="885.8" y="2026.3">ROUTE_TEMPLATE_ID</text>
<text x="885.8" y="2050.3">HEADER_ID</text>
<text x="885.8" y="2074.3">INSTANCE_NUMBER</text>
<text x="885.8" y="2098.3">&lt; 9</text><text class="r" x="1087.2" y="2098.3">35 &gt;</text>
</g>
<g id="CRIMINAL_COMPLAINTS">
<rect class="h" x="865.3" y="2284.4" width="240.4" height="24"/>
<rect class="p" x="865.3" y="2308.4" width="240.4" height="24"/>
<rect class="w" x="865.3" y="2332.4" width="240.4" height="24"/>
<rect class="f" x="865.3" y="2356.4" width="240.4" height="24"/>
<rect class="f" x="865.3" y="2380.4" width="240.4" height="24"/>
<rect class="f" x="865.3" y="2404.4" width="240.4" height="24"/>
<rect class="f" x="865.3" y="2428.4" width="240.4" height="24"/>
<rect class="w" x="865.3" y="2452.4" width="240.4" height="24"/>
<rect class="f" x="865.3" y="2476.4" width="240.4" height="24"/>
<rect class="f" x="865.3" y="2500.4" width="240.4" height="24"/>
<rect class="w" x="865.3" y="2524.4" width="240.4" height="24"/>
<rect class="f" x="865.3" y="2548.4" width="240.4" height="24"/>
<rect class="f" x="865.3" y="2572.4" width="240.4" height="24"/>
<rect class="w" x="865.3" y="2596.4" width="240.4" height="24"/>
<rect class="f" x="865.3" y="2620.4" width="240.4" height="24"/>
<rect class="w" x="865.3" y="2644.4" width="240.4" height="24"/>
<rect class="f" x="865.3" y="2668.4" width="240.4" height="24"/>
<rect class="f" x="865.3" y="2692.4" width="240.4" height="24"/>
<rect class="f" x="865.3" y="2716.4" width="240.4" height="24"/>
<rect class="f" x="865.3" y="2740.4" width="240.4" height="24"/>
<rect class="f" x="865.3" y="2764.4" width="240.4" height="24"/>
<rect class="f" x="865.3" y="2788.4" width="240.4" height="24"/>
<rect class="f" x="865.3" y="2812.4" width="240.4" height="24"/>
<rect class="f" x="865.3" y="2836.4" width="240.4" height="24"/>
<rect class="f" x="865.3" y="2860.4" width="240.4" height="24"/>
<rect class="f" x="865.3" y="2884.4" width="240.4" height="24"/>
<rect class="f" x="865.3" y="2908.4" width="240.4" height="24"/>
<rect class="w" x="865.3" y="2932.4" width="240.4" height="24"/>
<rect class="w" x="865.3" y="2956.4" width="240.4" height="24"/>
<rect class="w" x="865.3" y="2980.4" width="240.4" height="24"/>
<rect class="w" x="865.3" y="3004.4" width="240.4" height="24"/>
<rect class="w" x="865.3" y="3028.4" width="240.4" height="24"/>
<rect class="w" x="865.3" y="3052.4" width="240.4" height="24"/>
<rect class="w" x="865.3" y="3076.4" width="240.4" height="24"/>
<rect class="w" x="865.3" y="3100.4" width="240.4" height="24"/>
<rect class="f" x="865.3" y="3124.4" width="240.4" height="24"/>
<rect class="f" x="865.3" y="3148.4" width="240.4" height="24"/>
<rect class="b" x="865.3" y="3172.4" width="240.4" height="24"/>
<path class="s" d="M980.3,3172.4V3196.4M1036.7,3172.4V3196.4"/>
<text class="c" x="985.5" y="2301.4">CRIMINAL_COMPLAINTS</text>
<text x="869.8" y="2325.4">ID</text>
<text x="869.8" y="2349.4">CRIMINAL_COMPLAINT_NUM</text>
<text x="869.8" y="2373.4">PER_PERSON_ID</text>
<text x="869.8" y="2397.4">MN_MN_ID</text>
<text x="869.8" y="2421.4">PERSON_ADDRESS_ID</text>
<text x="869.8" y="2445.4">OBTN_NUMBER</text>
<text x="869.8" y="2469.4">COMPLAINT_DATETIME</text>
<text x="869.8" y="2493.4">STATUS_CODE</text>
<text x="869.8" y="2517.4">STATUS_CODE_TYPE</text>
<text x="869.8" y="2541.4">STATUS_DATE</text>
<text x="869.8" y="2565.4">SUBMIT_STATUS_CODE</text>
<text x="869.8" y="2589.4">SUBMIT_STATUS_CODE_TYPE</text>
<text x="869.8" y="2613.4">SUBMIT_STATUS_DATE</text>
<text x="869.8" y="2637.4">COURT_ID</text>
<text x="869.8" y="2661.4">COURT_DOCKET_NUMBER</text>
<text x="869.8" y="2685.4">COMPLAINT_TYPE_CODE</text>
<text x="869.8" y="2709.4">COMPLAINT_TYPE_CODE_TYPE</text>
<text x="869.8" y="2733.4">HEARING_CODE</text>
<text x="869.8" y="2757.4">HEARING_CODE_TYPE</text>
<text x="869.8" y="2781.4">THREAT_CODE</text>
<text x="869.8" y="2805.4">THREAT_CODE_TYPE</text>
<text x="869.8" y="2829.4">CHARGE_TYPE_CODE</text>
<text x="869.8" y="2853.4">CHARGE_TYPE_CODE_TYPE</text>
<text x="869.8" y="2877.4">COMPLAINTANT_OFF_ID</text>
<text x="869.8" y="2901.4">COMPLAINTANT_AGENCY_CODE</text>
<text x="869.8" y="2925.4">CRIMINAL_COMPLAINT_ADDR_ID</text>
<text x="869.8" y="2949.4">COMMENTS</text>
<text x="869.8" y="2973.4">JUVENILE</text>
<text x="869.8" y="2997.4">CREATOR_ID</text>
<text x="869.8" y="3021.4">CREATOR_DATE</text>
<text x="869.8" y="3045.4">UPDATOR_ID</text>
<text x="869.8" y="3069.4">UPDATOR_DATE</text>
<text x="869.8" y="3093.4">REC_ID</text>
<text x="869.8" y="3117.4">SUBMIT_STATUS_REASON</text>
<text x="869.8" y="3141.4">COURT_AGENCY_CODE</text>
<text x="869.8" y="3165.4">STATE_SUBMITTING_USER</text>
<text x="869.8" y="3189.4">&lt; 22</text><text class="r" x="1101.2" y="3189.4">8 &gt;</text>
</g>
<text x="16.3" y="4082">Generated by SchemaSpy</text>
</svg>
